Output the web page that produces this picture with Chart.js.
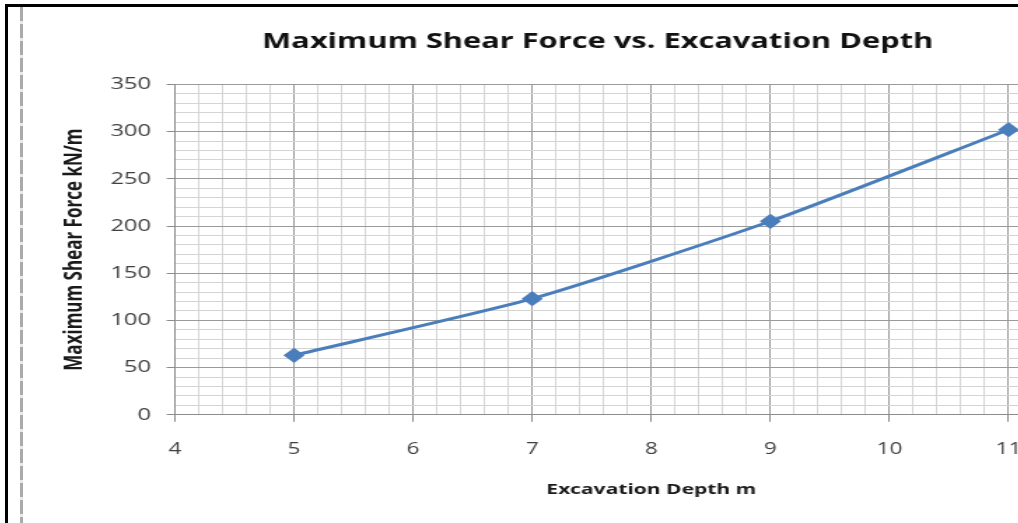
<!DOCTYPE html>
<html>
<head>
<meta charset="utf-8">
<script src="https://cdn.jsdelivr.net/npm/chart.js@4/dist/chart.umd.min.js"></script>
<style>
  html, body { margin: 0; padding: 0; background: #fff; overflow: hidden; width: 1018px; height: 523px; }
  #frameTop { position: absolute; left: 5px; top: 4px; width: 1100px; height: 3px; background: #000; }
  #frameLeft { position: absolute; left: 5px; top: 4px; width: 3px; height: 530px; background: #000; }
  #dash { position: absolute; left: 20px; top: 7px; width: 3px; height: 530px; background: repeating-linear-gradient(#aaa 0 14px, #e8e8e8 14px 17px); }
  /* l'image d'origine est etiree horizontalement */
  #wrap { position: absolute; left: 23px; top: 7px; width: 807px; height: 516px; transform: scaleX(1.4); transform-origin: 0 0; }
</style>
</head>
<body>
<div id="frameTop"></div>
<div id="frameLeft"></div>
<div id="dash"></div>
<div id="wrap"><canvas id="chart"></canvas></div>
<script>
// donnees
const depths = [5, 7, 9, 11];
const shearForce = [63, 123, 205, 302];

const chartTitle = "Maximum Shear Force vs. Excavation Depth";
const xTitle = "Excavation Depth m";
const yTitle = "Maximum Shear Force kN/m";
const xMin = 4, xMax = 12;

function isMajor(v, step) {
  return Math.abs(v / step - Math.round(v / step)) < 1e-6;
}

const points = depths.map((d, i) => ({ x: d, y: shearForce[i] }));

new Chart(document.getElementById("chart"), {
  type: 'line',
  data: {
    datasets: [{
      data: points,
      borderColor: '#4a7ebb',
      backgroundColor: '#4a7ebb',
      borderWidth: 3,
      pointStyle: 'rectRot',
      pointRadius: 5.5,
      tension: 0.2
    }]
  },
  options: {
    responsive: true,
    maintainAspectRatio: false,
    animation: false,
    layout: { padding: { left: 14, right: 0, top: 22, bottom: 20 } },
    plugins: {
      legend: { display: false },
      tooltip: { enabled: false },
      title: {
        display: true,
        text: chartTitle,
        color: '#111',
        font: { family: 'Open Sans', size: 22, weight: 'bold' },
        padding: { top: 0, bottom: 29 }
      }
    },
    scales: {
      x: {
        type: 'linear',
        min: xMin,
        max: xMax,
        border: { color: '#8c8c8c', width: 1 },
        grid: {
          color: c => isMajor(c.tick.value, 1) ? '#9a9a9a' : '#d4d4d4',
          tickColor: c => isMajor(c.tick.value, 1) ? '#8c8c8c' : 'rgba(0,0,0,0)',
          tickLength: 7
        },
        ticks: {
          stepSize: 0.2,
          autoSkip: false,
          maxRotation: 0,
          color: '#404040',
          font: { family: 'Open Sans', size: 16 },
          padding: 18,
          // le 12 est hors cadre dans l'original
          callback: v => (isMajor(v, 1) && v < xMax - 0.5) ? Math.round(v) : ''
        },
        title: {
          display: true,
          text: xTitle,
          color: '#1a1a1a',
          font: { family: 'Open Sans', size: 15, weight: 'bold' },
          padding: { top: 4 }
        }
      },
      y: {
        min: 0,
        max: 350,
        border: { color: '#8c8c8c', width: 1 },
        grid: {
          color: c => isMajor(c.tick.value, 50) ? '#9a9a9a' : '#d4d4d4',
          tickColor: c => isMajor(c.tick.value, 50) ? '#8c8c8c' : 'rgba(0,0,0,0)',
          tickLength: 6
        },
        ticks: {
          stepSize: 10,
          autoSkip: false,
          color: '#404040',
          font: { family: 'Open Sans', size: 17 },
          padding: 11,
          callback: v => isMajor(v, 50) ? v : ''
        },
        title: {
          display: true,
          text: yTitle,
          color: '#1a1a1a',
          font: { family: 'Open Sans', size: 17, weight: 'bold' },
          padding: { top: 13, bottom: 4 }
        }
      }
    }
  }
});
</script>
</body>
</html>
